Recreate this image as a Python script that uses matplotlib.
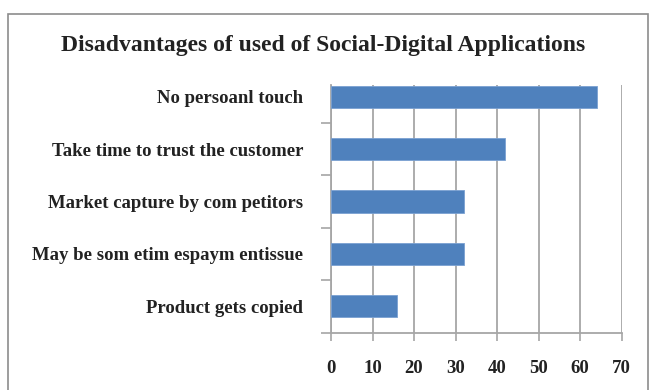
import matplotlib
matplotlib.use("Agg")
import matplotlib.pyplot as plt
from matplotlib.patches import Rectangle

categories = [
    "Product gets copied",
    "May be som etim espaym entissue",
    "Market capture by com petitors",
    "Take time to trust the customer",
    "No persoanl touch",
]
values = [16, 32, 32, 42, 64]
x_ticks = [0, 10, 20, 30, 40, 50, 60, 70]
title = "Disadvantages of used of Social-Digital Applications"

plt.rcParams["font.family"] = ["Liberation Serif", "DejaVu Serif"]
plt.rcParams["font.weight"] = "bold"

fig = plt.figure(figsize=(6.5, 3.9), dpi=100)
fig.patch.set_facecolor("white")

# outer chart frame
fig.patches.append(Rectangle((8 / 650, -0.05), 640 / 650, 1 - 14 / 390 + 0.05,
                             transform=fig.transFigure, fill=False,
                             edgecolor="#8c8c8c", linewidth=1.2))

ax = fig.add_axes([331 / 650, 1 - 332.7 / 390, (621.7 - 331) / 650, (332.7 - 85) / 390])

pos = list(range(len(categories)))
ax.barh(pos, values, height=0.42, color="#4F81BD", edgecolor="#7aa1d2",
        linewidth=0.6, zorder=3)

ax.set_xlim(0, 70)
ax.set_ylim(-0.5, 4.22)
ax.set_xticks(x_ticks)
ax.set_xticklabels([str(t) for t in x_ticks], fontsize=13.5, fontweight="bold",
                   color="#222222")
ax.grid(axis="x", color="#a6a6a6", linewidth=1.3, zorder=0)
ax.tick_params(axis="x", direction="out", length=6, width=1.2, color="#a6a6a6",
               pad=14)

ax.set_yticks(pos)
ax.set_yticklabels(categories, fontsize=13.5, fontweight="bold", color="#222222")
ax.set_yticks([p + 0.5 for p in pos[:-1]] + [-0.5], minor=True)
ax.tick_params(axis="y", which="major", length=0, pad=20)
ax.tick_params(axis="y", which="minor", direction="out", length=7, width=1.2,
               color="#a6a6a6")

for side in ("top", "right"):
    ax.spines[side].set_visible(False)
for side in ("left", "bottom"):
    ax.spines[side].set_color("#a6a6a6")
    ax.spines[side].set_linewidth(1.3)

fig.text(323 / 650, 1 - 46 / 390, title, ha="center", va="center",
         fontsize=17, fontweight="bold", color="#222222")

fig.savefig("out.png", dpi=100)
